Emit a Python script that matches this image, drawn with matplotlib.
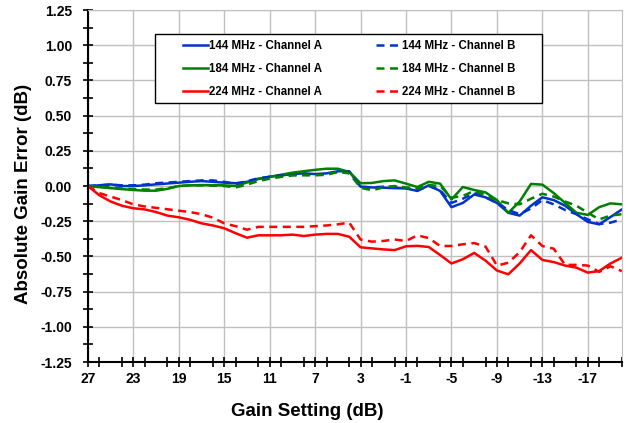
import numpy as np
import matplotlib
matplotlib.use('Agg')
import matplotlib.pyplot as plt
from matplotlib.patches import Rectangle
from matplotlib.ticker import MultipleLocator, FormatStrFormatter

plt.rcParams['font.family'] = ['Liberation Sans', 'DejaVu Sans']
plt.rcParams['font.weight'] = 'bold'
plt.rcParams['axes.unicode_minus'] = False

# gain setting in dB, 27 down to -20
gain = list(range(27, -21, -1))

ch_144_a = [0, 0.005, 0.012, 0.0, 0.0, 0.005, 0.012, 0.018, 0.024, 0.03,
            0.035, 0.03, 0.024, 0.02, 0.03, 0.05, 0.066, 0.075, 0.085, 0.09,
            0.085, 0.09, 0.105, 0.105, -0.005, -0.01, -0.012, -0.015, -0.017, -0.035,
            0.005, -0.035, -0.15, -0.12, -0.06, -0.08, -0.12, -0.19, -0.21, -0.14,
            -0.08, -0.1, -0.14, -0.2, -0.255, -0.272, -0.22, -0.166]
ch_144_b = [0, 0.005, 0.01, 0.005, 0.005, 0.01, 0.02, 0.025, 0.03, 0.035,
            0.04, 0.04, 0.03, 0.015, 0.035, 0.055, 0.065, 0.075, 0.08, 0.085,
            0.08, 0.085, 0.1, 0.1, -0.005, -0.01, -0.005, -0.005, -0.015, -0.03,
            0.0, -0.03, -0.12, -0.09, -0.05, -0.08, -0.12, -0.17, -0.2, -0.16,
            -0.1, -0.13, -0.17, -0.2, -0.237, -0.27, -0.26, -0.237]
ch_184_a = [0, -0.008, -0.015, -0.022, -0.028, -0.033, -0.033, -0.02, 0.0, 0.005,
            0.007, 0.006, 0.005, 0.0, 0.025, 0.052, 0.066, 0.08, 0.095, 0.105,
            0.115, 0.123, 0.123, 0.1, 0.02, 0.022, 0.035, 0.04, 0.017, -0.007,
            0.03, 0.017, -0.095, -0.007, -0.028, -0.045, -0.1, -0.19, -0.11, 0.015,
            0.01, -0.05, -0.12, -0.19, -0.205, -0.15, -0.123, -0.13]
ch_184_b = [0, -0.005, -0.01, -0.018, -0.022, -0.025, -0.025, -0.015, 0.0, 0.005,
            0.005, 0.003, 0.0, -0.01, 0.01, 0.035, 0.052, 0.065, 0.075, 0.076,
            0.076, 0.08, 0.1, 0.09, -0.012, -0.03, -0.01, 0.0, -0.01, -0.017,
            0.007, 0.0, -0.083, -0.07, -0.035, -0.065, -0.1, -0.123, -0.13, -0.09,
            -0.055, -0.075, -0.11, -0.14, -0.19, -0.237, -0.21, -0.2]
ch_224_a = [0, -0.065, -0.11, -0.14, -0.158, -0.166, -0.185, -0.21, -0.222, -0.24,
            -0.265, -0.28, -0.3, -0.335, -0.367, -0.35, -0.35, -0.35, -0.345, -0.355,
            -0.345, -0.34, -0.34, -0.36, -0.435, -0.443, -0.45, -0.455, -0.428, -0.425,
            -0.433, -0.49, -0.55, -0.52, -0.475, -0.53, -0.6, -0.627, -0.55, -0.455,
            -0.525, -0.54, -0.565, -0.58, -0.615, -0.604, -0.55, -0.509]
ch_224_b = [0, -0.05, -0.075, -0.1, -0.13, -0.145, -0.155, -0.165, -0.175, -0.185,
            -0.2, -0.225, -0.265, -0.285, -0.31, -0.29, -0.29, -0.29, -0.29, -0.29,
            -0.285, -0.28, -0.272, -0.26, -0.38, -0.395, -0.39, -0.38, -0.39, -0.35,
            -0.37, -0.426, -0.426, -0.414, -0.405, -0.43, -0.565, -0.545, -0.47, -0.35,
            -0.426, -0.445, -0.56, -0.56, -0.565, -0.61, -0.57, -0.605]

blue = '#0033cc'
green = '#008000'
red = '#ff0000'

fig = plt.figure(figsize=(6.28, 4.23), dpi=100)
ax = fig.add_axes([0.140, 0.1442, 0.8503, 0.832])

lw = 1.8
dash = (0, (3.2, 2.2))
series = [
    (ch_144_a, blue, '-', '144 MHz - Channel A'),
    (ch_184_a, green, '-', '184 MHz - Channel A'),
    (ch_224_a, red, '-', '224 MHz - Channel A'),
    (ch_144_b, blue, dash, '144 MHz - Channel B'),
    (ch_184_b, green, dash, '184 MHz - Channel B'),
    (ch_224_b, red, dash, '224 MHz - Channel B'),
]
for vals, col, ls, lab in series:
    ax.plot(gain, vals, color=col, linestyle=ls, linewidth=lw, label=lab)

ax.set_xlim(27, -20)
ax.set_ylim(-1.25, 1.25)
ax.xaxis.set_minor_locator(MultipleLocator(2))
ax.yaxis.set_major_locator(MultipleLocator(0.25))
ax.yaxis.set_minor_locator(MultipleLocator(0.125))
ax.yaxis.set_major_formatter(FormatStrFormatter('%.2f'))
ax.set_xticks(list(range(27, -20, -4)))

ax.grid(True, which='major', color='#c0c0c0', linewidth=1.0)
ax.set_axisbelow(True)
for s in ['top', 'right']:
    ax.spines[s].set_color('#c0c0c0')
for s in ['left', 'bottom']:
    ax.spines[s].set_linewidth(1.5)
ax.tick_params(which='both', direction='inout', width=1.2, length=7, labelsize=10)
ax.tick_params(axis='y', which='major', pad=8)
ax.tick_params(axis='x', which='major', pad=4)
ax.tick_params(top=False, right=False, which='both')
for t in ax.get_xticklabels() + ax.get_yticklabels():
    t.set_fontweight('bold')

ax.set_xlabel('Gain Setting (dB)', fontsize=13.5, fontweight='bold')
ax.set_ylabel('Absolute Gain Error (dB)', fontsize=13.5, fontweight='bold')
ax.xaxis.set_label_coords(0.41, -0.116)
ax.yaxis.set_label_coords(-0.105, 0.477)

# legend box drawn separately so the inner padding can be wider than tall
box = Rectangle((0.1255, 0.736), 0.7245, 0.196, transform=ax.transAxes,
                facecolor='white', edgecolor='black', linewidth=1.0, zorder=4)
ax.add_patch(box)
leg = ax.legend(loc='upper left', bbox_to_anchor=(0.178, 0.915), ncol=2,
                fontsize=8.3, frameon=False, borderaxespad=0, borderpad=0,
                handlelength=2.2, handletextpad=0.1, columnspacing=4.6,
                labelspacing=0.95)
leg.set_zorder(5)
for t in leg.get_texts():
    t.set_fontweight('bold')

fig.savefig('out.png', dpi=100)
